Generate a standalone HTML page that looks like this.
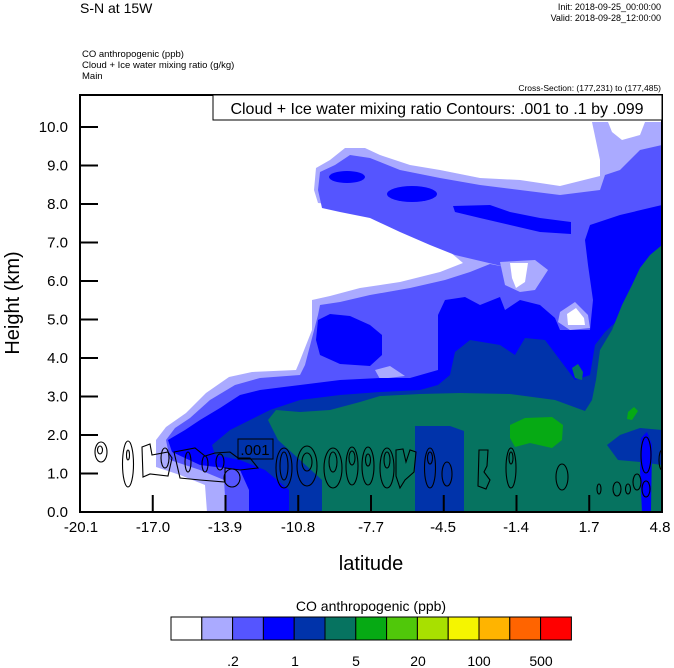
<!DOCTYPE html>
<html><head><meta charset="utf-8"><style>
html,body{margin:0;padding:0;background:#fff;}
svg{display:block;font-family:"Liberation Sans",Arial,sans-serif;}
</style></head><body>
<svg width="674" height="668" viewBox="0 0 674 668" xmlns="http://www.w3.org/2000/svg">
<rect width="674" height="668" fill="#fff"/>
<text x="80" y="13" font-size="14">S-N at 15W</text>
<text x="661" y="10" font-size="9" text-anchor="end">Init: 2018-09-25_00:00:00</text>
<text x="661" y="21" font-size="9" text-anchor="end">Valid: 2018-09-28_12:00:00</text>
<text x="82" y="57" font-size="9.5">CO anthropogenic   (ppb)</text>
<text x="82" y="68" font-size="9.5">Cloud + Ice water mixing ratio   (g/kg)</text>
<text x="82" y="79" font-size="9.5">Main</text>
<text x="661" y="91" font-size="8.5" text-anchor="end">Cross-Section: (177,231) to (177,485)</text>

<clipPath id="c"><rect x="80" y="95" width="582" height="417"/></clipPath>
<g clip-path="url(#c)">
<!-- light -->
<polygon fill="#aaaaff" points="207,512 205,485 180,475 156,467 156,440 166,427 186,413 206,393 229,377 252,372 296,370 299,363 312,330 312,300 330,296 360,288 400,282 440,272 463,263 450,252 430,240 400,225 370,212 340,205 318,203 314,190 316,168 330,160 345,148 365,148 380,155 410,165 440,170 480,178 520,180 560,186 600,176 600,160 592,122 662,122 662,512"/>
<polygon fill="#fff" points="608,122 645,122 640,135 622,140 612,132"/>
<!-- medium -->
<polygon fill="#5555ff" points="226,512 224,480 200,470 170,460 166,440 175,428 190,418 210,400 235,385 260,378 300,375 305,365 318,315 320,305 340,302 370,295 410,288 445,280 470,272 490,264 510,268 455,255 430,245 400,232 370,218 340,212 322,208 318,190 320,172 335,165 350,155 370,158 400,170 440,178 480,185 520,190 560,195 600,190 605,175 620,170 640,150 662,145 662,512"/>
<polygon fill="#aaaaff" points="500,262 535,260 548,270 535,290 520,292 505,285"/>
<polygon fill="#fff" points="510,263 528,263 525,282 516,288 512,278"/>
<polygon fill="#aaaaff" points="560,312 575,302 588,315 590,328 570,330 558,322"/>
<polygon fill="#fff" points="567,314 576,308 584,318 585,325 568,325"/>
<polygon fill="#aaaaff" points="375,370 390,366 405,376 380,379"/>
<!-- blue -->
<ellipse cx="347" cy="177" rx="18" ry="6" fill="#0000ff"/>
<ellipse cx="412" cy="194" rx="25" ry="8" fill="#0000ff"/>
<polygon fill="#0000ff" points="453,206 490,205 510,212 540,218 571,222 571,234 540,232 510,225 480,218 455,212"/>
<polygon fill="#0000ff" points="318,320 330,314 350,316 370,325 382,335 382,355 370,366 340,364 320,355 316,340"/>
<polygon fill="#0000ff" points="249,512 249,490 240,470 200,465 172,452 168,440 185,430 200,420 220,408 240,395 260,390 300,385 340,380 380,378 410,378 438,370 438,315 445,300 465,297 480,305 500,297 505,310 520,300 540,305 555,318 560,330 590,330 593,300 588,265 585,240 590,225 620,215 662,205 662,512"/>
<!-- dark blue -->
<polygon fill="#0033aa" points="289,512 289,490 265,470 240,460 215,455 212,445 230,430 250,420 270,410 300,400 340,395 380,392 420,390 438,385 450,375 455,352 470,340 500,345 515,355 525,338 545,340 560,360 575,380 590,375 595,345 605,332 620,318 630,300 640,280 650,262 662,258 662,512"/>
<!-- teal -->
<polygon fill="#067360" points="322,512 322,480 300,460 278,440 268,420 276,410 300,412 330,410 360,402 380,396 420,394 460,393 510,394 555,400 585,411 592,400 596,380 600,350 612,330 622,305 632,285 640,268 650,255 662,245 662,430 640,428 620,435 607,445 618,460 640,462 662,465 662,512 464,512 464,431 450,426 415,426 415,512"/>
<polygon fill="#0000ff" points="641,438 647,432 652,445 651,512 642,512 640,470"/>
<polygon fill="#067360" points="572,368 578,364 583,372 582,380 575,378"/>
<!-- green -->
<polygon fill="#06aa14" points="510,425 525,418 552,417 563,425 562,440 552,448 530,443 515,447 510,438"/>
<polygon fill="#06aa14" points="628,412 634,407 638,411 632,420 627,419"/>
<!-- contours -->
<g fill="none" stroke="#000" stroke-width="1.1">
<ellipse cx="101" cy="452" rx="6" ry="10"/><ellipse cx="100" cy="450" rx="2.5" ry="4"/>
<ellipse cx="128" cy="464" rx="5.5" ry="23"/><ellipse cx="128" cy="455" rx="1.5" ry="5"/>
<path d="M142,447 L150,444 L152,455 L168,452 L172,458 L168,476 L150,474 L143,477 Z"/>
<path d="M174,452 L195,448 L205,456 L215,453 L230,452 L238,458 L250,458 L258,468 L240,470 L225,468 L225,482 L200,480 L180,478 Z"/>
<ellipse cx="165" cy="458" rx="4" ry="10"/><ellipse cx="188" cy="462" rx="3" ry="10"/><ellipse cx="205" cy="464" rx="3" ry="8"/><ellipse cx="220" cy="462" rx="4" ry="8"/><ellipse cx="232" cy="478" rx="8" ry="9"/>
<ellipse cx="284" cy="468" rx="8" ry="20"/><ellipse cx="284" cy="466" rx="4" ry="14"/>
<ellipse cx="307" cy="466" rx="10" ry="20"/><ellipse cx="307" cy="462" rx="5" ry="9"/>
<ellipse cx="333" cy="468" rx="9" ry="20"/><ellipse cx="333" cy="462" rx="4" ry="10"/>
<ellipse cx="352" cy="466" rx="6" ry="19"/><ellipse cx="352" cy="458" rx="3" ry="7"/>
<ellipse cx="368" cy="466" rx="6" ry="19"/><ellipse cx="368" cy="460" rx="2.5" ry="6"/>
<ellipse cx="387" cy="468" rx="7" ry="20"/><ellipse cx="387" cy="460" rx="3" ry="8"/>
<path d="M396,450 L403,449 L406,462 L410,450 L416,452 L414,472 L405,480 L400,488 L396,476 Z"/>
<ellipse cx="430" cy="468" rx="5.5" ry="20"/><ellipse cx="430" cy="458" rx="2.5" ry="6"/>
<ellipse cx="447" cy="474" rx="5" ry="12"/>
<path d="M479,450 L488,450 L487,466 L484,472 L490,480 L486,489 L478,486 Z"/>
<ellipse cx="511" cy="468" rx="5" ry="20"/><ellipse cx="511" cy="458" rx="2" ry="6"/>
<ellipse cx="562" cy="477" rx="6" ry="13"/>
<ellipse cx="599" cy="489" rx="2" ry="5"/>
<ellipse cx="617" cy="489" rx="4" ry="7"/><ellipse cx="628" cy="489" rx="2.5" ry="5"/>
<ellipse cx="637" cy="482" rx="4" ry="8"/>
<ellipse cx="646" cy="455" rx="5" ry="18"/><ellipse cx="646" cy="489" rx="4" ry="8"/>
<ellipse cx="662" cy="460" rx="3" ry="10"/>
</g>
<rect x="238" y="439" width="35" height="20" fill="none" stroke="#000" stroke-width="1"/>
<text x="255" y="455" font-size="15" text-anchor="middle">.001</text>
</g>
<!-- frame -->
<rect x="80" y="95" width="582" height="417" fill="none" stroke="#000" stroke-width="2"/>
<rect x="213" y="95" width="449" height="25" fill="#fff" stroke="#000" stroke-width="1"/>
<text x="437" y="114" font-size="16" text-anchor="middle">Cloud + Ice water mixing ratio Contours: .001 to .1 by .099</text>
<g stroke="#000" stroke-width="2">
<line x1="80" y1="473.5" x2="98" y2="473.5"/><line x1="80" y1="435" x2="98" y2="435"/><line x1="80" y1="396.5" x2="98" y2="396.5"/><line x1="80" y1="358" x2="98" y2="358"/><line x1="80" y1="319.5" x2="98" y2="319.5"/><line x1="80" y1="281" x2="98" y2="281"/><line x1="80" y1="242.5" x2="98" y2="242.5"/><line x1="80" y1="204" x2="98" y2="204"/><line x1="80" y1="165.5" x2="98" y2="165.5"/><line x1="80" y1="127" x2="98" y2="127"/>
<line x1="152.75" y1="512" x2="152.75" y2="495"/><line x1="225.5" y1="512" x2="225.5" y2="495"/><line x1="298.25" y1="512" x2="298.25" y2="495"/><line x1="371" y1="512" x2="371" y2="495"/><line x1="443.75" y1="512" x2="443.75" y2="495"/><line x1="516.5" y1="512" x2="516.5" y2="495"/><line x1="589.25" y1="512" x2="589.25" y2="495"/>
</g>
<g font-size="15" text-anchor="end">
<text x="68" y="517">0.0</text><text x="68" y="478.5">1.0</text><text x="68" y="440">2.0</text><text x="68" y="401.5">3.0</text><text x="68" y="363">4.0</text><text x="68" y="324.5">5.0</text><text x="68" y="286">6.0</text><text x="68" y="247.5">7.0</text><text x="68" y="209">8.0</text><text x="68" y="170.5">9.0</text><text x="68" y="132">10.0</text>
</g>
<g font-size="15" text-anchor="middle">
<text x="81" y="532">-20.1</text><text x="153" y="532">-17.0</text><text x="225" y="532">-13.9</text><text x="298" y="532">-10.8</text><text x="371" y="532">-7.7</text><text x="443" y="532">-4.5</text><text x="516" y="532">-1.4</text><text x="589" y="532">1.7</text><text x="660" y="532">4.8</text>
</g>
<text x="371" y="570" font-size="20" text-anchor="middle">latitude</text>
<text transform="translate(19,303) rotate(-90)" font-size="20" text-anchor="middle">Height (km)</text>
<!-- colorbar -->
<text x="371" y="611" font-size="14" text-anchor="middle">CO anthropogenic  (ppb)</text>
<g stroke="#000" stroke-width="1">
<rect x="171" y="617" width="30.8" height="23" fill="#ffffff"/>
<rect x="201.8" y="617" width="30.8" height="23" fill="#aaaaff"/>
<rect x="232.6" y="617" width="30.8" height="23" fill="#5555ff"/>
<rect x="263.4" y="617" width="30.8" height="23" fill="#0000ff"/>
<rect x="294.2" y="617" width="30.8" height="23" fill="#0033aa"/>
<rect x="325" y="617" width="30.8" height="23" fill="#067360"/>
<rect x="355.8" y="617" width="30.8" height="23" fill="#06aa14"/>
<rect x="386.6" y="617" width="30.8" height="23" fill="#50c80a"/>
<rect x="417.4" y="617" width="30.8" height="23" fill="#a8e000"/>
<rect x="448.2" y="617" width="30.8" height="23" fill="#f5f500"/>
<rect x="479" y="617" width="30.8" height="23" fill="#ffb400"/>
<rect x="509.8" y="617" width="30.8" height="23" fill="#ff6400"/>
<rect x="540.6" y="617" width="30.8" height="23" fill="#ff0000"/>
</g>
<g font-size="14" text-anchor="middle">
<text x="233" y="666">.2</text><text x="295" y="666">1</text><text x="356" y="666">5</text><text x="418" y="666">20</text><text x="479" y="666">100</text><text x="541" y="666">500</text>
</g>
</svg>
</body></html>
